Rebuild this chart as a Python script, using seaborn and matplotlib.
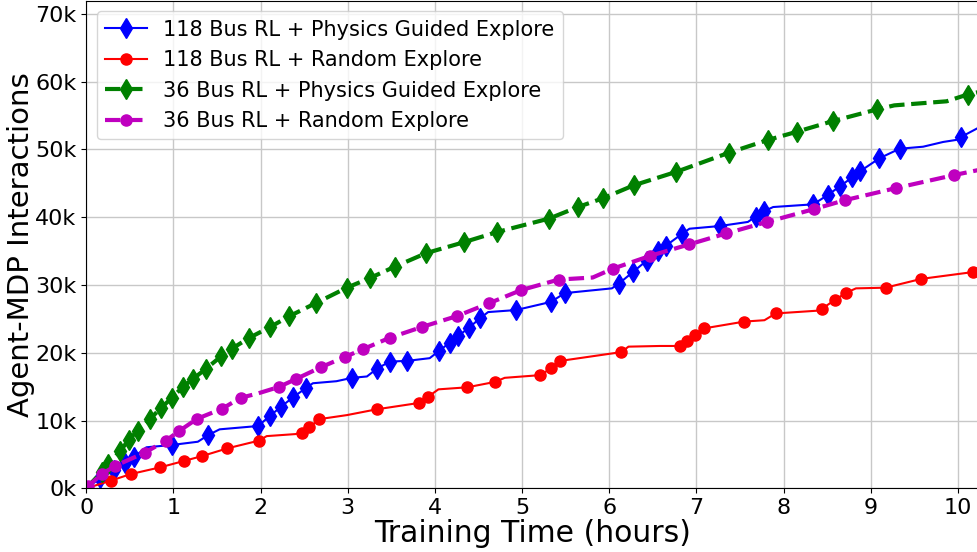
import numpy as np
import pandas as pd
import matplotlib
matplotlib.use("Agg")
import matplotlib.pyplot as plt
import seaborn as sns
from matplotlib.ticker import FuncFormatter

# values: hours vs interactions (thousands); flag = marker drawn
bus118_phys_x = [0, 0.16, 0.32, 0.44, 0.55, 0.69, 0.98, 1.28, 1.40, 1.53, 1.97, 2.11, 2.23, 2.37, 2.52,
                 2.60, 2.87, 3.05, 3.22, 3.33, 3.48, 3.68, 3.94, 4.05, 4.17, 4.26, 4.39, 4.52, 4.61,
                 4.93, 5.33, 5.49, 6.03, 6.11, 6.27, 6.43, 6.56, 6.65, 6.83, 6.92, 7.27, 7.59, 7.68,
                 7.78, 7.88, 8.34, 8.51, 8.65, 8.79, 8.88, 9.10, 9.33, 9.60, 9.83, 9.98, 10.03, 10.25]
bus118_phys_y = [0, 1.47, 2.7, 3.69, 4.66, 6.05, 6.39, 6.87, 7.86, 8.7, 9.19, 10.7, 12.0, 13.4, 14.8,
                 15.5, 15.8, 16.3, 16.5, 17.6, 18.7, 18.8, 19.2, 20.3, 21.5, 22.4, 23.7, 25.1, 26.0,
                 26.3, 27.5, 28.8, 29.5, 30.2, 31.9, 33.6, 35.0, 35.8, 37.5, 38.3, 38.7, 39.3, 40.1,
                 40.9, 41.5, 41.9, 43.3, 44.6, 45.9, 46.8, 48.7, 50.1, 50.4, 51.1, 51.4, 51.8, 53.3]
bus118_phys_mark = [0, 1, 1, 1, 1, 0, 1, 0, 1, 0, 1, 1, 1, 1, 1,
                    0, 0, 1, 0, 1, 1, 1, 0, 1, 1, 1, 1, 1, 0,
                    1, 1, 1, 0, 1, 1, 1, 1, 1, 1, 0, 1, 0, 1,
                    1, 0, 1, 1, 1, 1, 1, 1, 1, 0, 0, 0, 1, 0]

bus118_rand_x = [0, 0.28, 0.51, 0.85, 1.12, 1.33, 1.62, 1.98, 2.07, 2.40, 2.47, 2.56, 2.67, 2.99, 3.33,
                 3.82, 3.92, 4.04, 4.37, 4.69, 4.80, 5.21, 5.33, 5.44, 6.14, 6.22, 6.58, 6.81, 6.89,
                 6.98, 7.09, 7.55, 7.78, 7.91, 8.38, 8.44, 8.59, 8.71, 8.83, 9.17, 9.58, 10.17, 10.25]
bus118_rand_y = [0, 1.12, 2.1, 3.1, 4.03, 4.76, 5.9, 7.03, 7.7, 8.0, 8.2, 9.0, 10.2, 10.8, 11.65,
                 12.6, 13.5, 14.6, 14.9, 15.7, 16.3, 16.7, 17.7, 18.8, 20.1, 20.9, 21.0, 21.0, 21.8,
                 22.6, 23.6, 24.6, 24.8, 25.8, 26.2, 26.5, 27.8, 28.8, 29.5, 29.6, 30.9, 31.9, 32.0]
bus118_rand_mark = [0, 1, 1, 1, 1, 1, 1, 1, 0, 0, 1, 1, 1, 0, 1,
                    1, 1, 0, 1, 1, 0, 1, 1, 1, 1, 0, 0, 1, 1,
                    1, 1, 1, 0, 1, 0, 1, 1, 1, 0, 1, 1, 1, 0]

bus36_phys_x = [0, 0.18, 0.25, 0.39, 0.49, 0.59, 0.73, 0.86, 0.98, 1.11, 1.22, 1.37, 1.55, 1.67, 1.87,
                2.11, 2.33, 2.63, 2.99, 3.25, 3.54, 3.90, 4.33, 4.71, 5.31, 5.64, 5.93, 6.28, 6.77,
                7.37, 7.82, 8.15, 8.57, 9.07, 9.27, 9.87, 10.11, 10.25]
bus36_phys_y = [0, 2.45, 3.54, 5.5, 7.2, 8.5, 10.2, 11.9, 13.3, 15.0, 16.1, 17.6, 19.5, 20.6, 22.2,
                23.8, 25.4, 27.3, 29.6, 31.0, 32.7, 34.7, 36.3, 37.8, 39.8, 41.5, 42.8, 44.7, 46.7,
                49.5, 51.4, 52.6, 54.2, 55.9, 56.5, 57.1, 58.1, 58.5]
bus36_phys_mark = [0, 1, 1, 1, 1, 1, 1, 1, 1, 1, 1, 1, 1, 1, 1,
                   1, 1, 1, 1, 1, 1, 1, 1, 1, 1, 1, 1, 1, 1,
                   1, 1, 1, 1, 1, 0, 0, 1, 0]

bus36_rand_x = [0, 0.02, 0.18, 0.33, 0.67, 0.91, 1.06, 1.27, 1.56, 1.77, 1.97, 2.21, 2.41, 2.69, 2.97,
                3.17, 3.48, 3.85, 4.25, 4.62, 4.99, 5.42, 5.81, 6.04, 6.47, 6.92, 7.34, 7.81, 8.35,
                8.70, 9.29, 9.95, 10.25]
bus36_rand_y = [0, 0.3, 2.1, 3.3, 5.25, 7.0, 8.4, 10.25, 11.75, 13.35, 14.0, 14.95, 16.15, 17.85, 19.4,
                20.5, 22.2, 23.8, 25.4, 27.3, 29.25, 30.8, 31.1, 32.4, 34.3, 36.0, 37.6, 39.3, 41.2,
                42.5, 44.3, 46.2, 47.0]
bus36_rand_mark = [0, 1, 1, 1, 1, 1, 1, 1, 1, 1, 0, 1, 1, 1, 1,
                   1, 1, 1, 1, 1, 1, 1, 0, 1, 1, 1, 1, 1, 1,
                   1, 1, 1, 0]

labels = ["118 Bus RL + Physics Guided Explore", "118 Bus RL + Random Explore",
          "36 Bus RL + Physics Guided Explore", "36 Bus RL + Random Explore"]

series = [
    (bus118_phys_x, bus118_phys_y, bus118_phys_mark, "b", "d", "-", 1.5, 10),
    (bus118_rand_x, bus118_rand_y, bus118_rand_mark, "r", "o", "-", 1.5, 8),
    (bus36_phys_x, bus36_phys_y, bus36_phys_mark, "g", "d", "--", 3, 10),
    (bus36_rand_x, bus36_rand_y, bus36_rand_mark, "m", "o", "--", 3, 8),
]

fig = plt.figure(figsize=(9.78, 5.52), dpi=100)
ax = fig.add_axes([0.0882, 0.1154, 0.9118, 0.8828])

for (x, y, mk, c, m, ls, lw, ms), lab in zip(series, labels):
    df = pd.DataFrame({"x": x, "y": y})
    sns.lineplot(data=df, x="x", y="y", ax=ax, color=c, marker=m, linestyle=ls,
                 linewidth=lw, markersize=ms, markeredgecolor=c, markeredgewidth=1,
                 markevery=[bool(v) for v in mk], label=lab,
                 estimator=None, errorbar=None, sort=False)

ax.set_xlim(0, 10.23)
ax.set_ylim(0, 71.9)
ax.set_xticks(range(0, 11))
ax.set_yticks(range(0, 71, 10))
ax.yaxis.set_major_formatter(FuncFormatter(lambda v, p: f"{v:.0f}k"))
ax.tick_params(labelsize=16)
ax.grid(True, color="#c8c8c8", linewidth=1)
ax.set_axisbelow(True)
ax.spines["right"].set_visible(False)
ax.set_xlabel("Training Time (hours)", fontsize=21.5, labelpad=1)
ax.set_ylabel("Agent-MDP Interactions", fontsize=21, labelpad=0)
ax.legend(loc="upper left", fontsize=15)

fig.savefig("out.png", dpi=100)
